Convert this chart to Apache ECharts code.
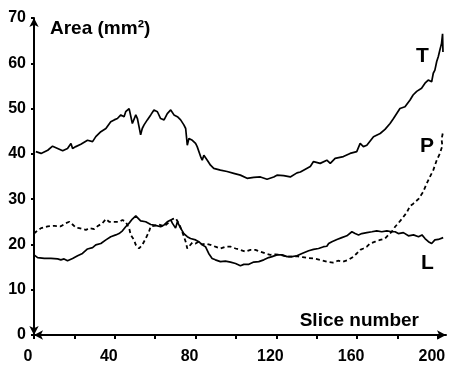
<!DOCTYPE html>
<html>
<head>
<meta charset="utf-8">
<script src="https://cdn.jsdelivr.net/npm/echarts@6/dist/echarts.min.js"></script>
<style>html,body{margin:0;padding:0;background:#fff;}#c{width:449px;height:370px;}</style>
</head>
<body>
<div id="c"></div>
<script>
const xLabelStep = 40;
const xTickStep = 20;
const yTickStep = 10;

// Series T (solid, top)
const tSlice = [0.9,3.5,6.8,9.2,11.7,14.2,16.6,18.3,19.1,20.7,23.2,26.5,29.0,30.6,33.1,35.6,38.0,39.7,41.3,42.1,43.0,44.6,45.4,47.1,47.9,48.7,49.5,50.4,51.2,52.0,52.8,53.6,54.5,56.1,57.8,59.4,61.1,62.7,64.4,66.0,67.7,69.3,71.0,72.6,74.2,75.1,75.9,76.7,78.4,80.0,80.8,82.5,83.3,84.1,85.8,87.4,89.0,92.3,95.6,98.9,102.2,105.5,108.8,112.1,115.4,118.7,120.3,123.6,126.9,130.2,131.9,136.8,138.4,141.7,145.0,146.7,149.1,153.2,156.5,159.8,161.5,163.1,164.8,168.1,171.4,173.8,176.3,178.0,179.6,181.2,183.7,186.2,187.7,189.5,191.9,193.6,195.2,196.9,197.7,198.5,199.4,200.2,201.0,201.8,202.3,202.5];
const tArea  = [40.5,40.1,40.8,41.7,41.2,40.7,41.2,42.3,41.2,41.6,42.1,43.0,42.7,43.8,44.9,45.6,47.1,47.5,47.8,47.5,48.6,48.2,49.3,50.0,49.7,46.7,46.4,48.6,47.8,46.0,44.2,45.6,46.4,47.5,48.6,49.7,49.3,47.8,47.5,48.9,49.7,48.6,48.2,47.5,46.4,45.6,41.9,43.4,43.0,42.3,41.6,39.4,38.6,39.7,38.6,37.5,36.8,36.4,36.1,35.7,35.3,34.6,34.8,34.9,34.4,34.9,35.3,35.2,34.9,35.8,36.0,37.2,38.3,37.9,38.6,37.9,39.0,39.4,40.1,40.5,42.3,41.6,41.9,43.8,44.5,45.4,46.7,47.8,48.9,50.0,50.4,51.9,53.0,53.8,54.5,55.6,56.3,55.9,57.8,58.5,60.4,61.5,63.0,64.4,66.5,62.5];

// Series P (dashed)
const pSlice = [0,1.0,3.5,6.8,10.0,13.3,15.8,17.5,19.1,20.7,22.4,24.0,25.7,27.3,29.8,31.4,33.9,35.6,37.2,39.7,42.1,43.8,45.4,47.1,47.9,49.5,50.4,52.0,53.6,55.3,56.9,57.8,59.4,61.9,64.4,66.5,68.5,70.1,71.8,73.4,75.1,75.9,76.7,78.4,80.0,81.6,83.3,84.9,87.4,89.8,92.3,94.8,97.3,99.8,102.2,104.7,107.2,109.6,112.1,114.6,117.0,119.5,122.0,125.3,127.7,130.2,133.0,135.5,138.4,141.7,145.0,148.0,150.5,153.0,155.7,158.2,159.8,161.5,163.1,164.8,166.4,168.9,171.4,173.8,175.5,177.1,178.8,180.4,182.1,184.5,186.2,187.8,190.3,192.7,194.4,196.0,197.7,199.4,201.0,202.2,201.8,202.6];
const pArea  = [22.4,22.8,23.6,24.0,24.1,24.0,24.7,25.0,24.4,23.7,23.6,23.4,23.2,23.6,23.4,24.0,24.7,25.6,25.0,25.0,25.0,25.4,25.0,23.6,22.1,21.0,19.9,19.1,19.9,21.3,22.8,24.0,24.1,24.4,24.0,24.8,25.6,25.8,24.6,22.8,20.6,19.1,19.5,20.4,20.2,20.6,20.0,20.2,19.9,19.5,19.1,19.5,19.5,19.1,18.8,18.4,18.8,18.8,18.4,18.0,17.7,17.8,17.7,17.3,17.3,17.4,17.2,17.0,16.9,16.6,16.2,16.0,16.4,16.2,16.6,17.3,18.0,18.8,19.1,19.5,20.2,20.6,21.0,21.3,22.1,22.8,23.9,24.7,25.6,27.0,28.5,29.0,30.0,31.6,33.4,34.9,36.4,38.6,40.1,41.8,43.2,45.0];

// Series L (solid, lower)
const lSlice = [0,1.8,5.1,8.4,11.7,13.3,14.9,16.6,19.1,21.6,24.0,26.5,29.0,30.6,33.1,35.6,38.0,40.5,42.1,43.8,45.4,47.1,48.7,50.4,51.2,52.8,55.3,57.8,60.2,62.7,64.4,66.0,67.7,68.5,70.1,71.0,71.8,72.6,74.2,75.9,77.5,80.0,81.6,83.3,84.9,86.5,88.2,89.8,92.3,94.8,97.3,99.8,102.2,103.9,106.4,108.8,111.3,113.8,116.2,117.9,120.3,122.8,125.3,127.7,130.2,132.7,136.0,138.4,140.9,143.4,145.0,145.9,147.5,150.0,152.4,154.9,157.4,159.0,160.7,162.3,164.8,167.3,169.7,172.2,174.7,177.1,178.8,180.4,182.9,185.4,187.9,190.4,192.1,193.6,195.3,196.9,198.5,200.2,202.6];
const lArea  = [17.7,17.1,16.9,16.9,16.8,16.6,16.8,16.4,16.9,17.5,18.0,19.0,19.3,19.9,20.2,21.0,21.7,22.1,22.4,23.0,23.9,24.7,25.6,26.3,25.9,25.2,25.0,24.4,24.2,23.9,24.3,25.0,25.4,24.7,23.6,25.0,24.7,23.6,22.4,21.7,21.3,21.0,20.6,19.9,19.5,18.0,16.9,16.6,16.2,16.3,16.1,15.8,15.3,15.6,15.6,16.1,16.2,16.6,17.1,17.3,17.7,17.7,17.3,17.3,17.5,18.0,18.6,18.9,19.1,19.5,19.6,20.2,20.6,21.1,21.5,21.9,22.8,22.4,22.1,22.4,22.6,22.8,23.0,22.8,23.0,22.8,22.8,22.4,22.6,21.9,22.1,21.7,22.1,21.3,20.6,20.2,21.0,21.1,21.5];

const seriesNames = ['T', 'P', 'L'];
const xName = 'Slice number';
const yName = 'Area (mm²)';
function pairs(xs, ys) { return xs.map((x, i) => [x, ys[i]]); }
const FONT = "'Liberation Sans', Arial, sans-serif";
const chart = echarts.init(document.getElementById('c'), null, {renderer: 'canvas'});

const labelTitle = (text, left, top) => ({
  text: text, left: left, top: top, padding: 0,
  textStyle: { color: '#000', fontFamily: FONT, fontWeight: 'bold', fontSize: 21 }
});

chart.setOption({
  animation: false,
  title: [
    labelTitle(seriesNames[0], 416, 46),
    labelTitle(seriesNames[1], 420, 136),
    labelTitle(seriesNames[2], 421, 253)
  ],
  grid: { left: 34, right: 3, top: 18, bottom: 35 },
  xAxis: {
    type: 'value', min: 0, max: 204, interval: xTickStep,
    splitLine: { show: false },
    name: xName, nameLocation: 'end', nameGap: -27,
    nameTextStyle: { color: '#000', fontFamily: FONT, fontWeight: 'bold', fontSize: 19, align: 'right', verticalAlign: 'bottom', padding: [0, 0, 5, 0] },
    axisLine: { show: true, lineStyle: { color: '#000000', width: 2 }, symbol: 'arrow', symbolSize: [7, 9] },
    axisTick: { show: true, length: 4, lineStyle: { color: '#000000', width: 2 } },
    axisLabel: {
      show: true, margin: 14, color: '#000', fontFamily: FONT, fontWeight: 'bold', fontSize: 16,
      padding: [0, 12, 0, 0], showMaxLabel: false,
      formatter: function (v) { return (v % xLabelStep === 0) ? String(v) : ''; }
    }
  },
  yAxis: {
    type: 'value', min: 0, max: 70, interval: yTickStep,
    splitLine: { show: false },
    name: yName, nameLocation: 'end', nameGap: -11,
    nameTextStyle: { color: '#000', fontFamily: FONT, fontWeight: 'bold', fontSize: 19, align: 'left', verticalAlign: 'middle', padding: [0, 0, 0, 16] },
    axisLine: { show: true, lineStyle: { color: '#000000', width: 2 }, symbol: 'arrow', symbolSize: [7, 9] },
    axisTick: { show: true, length: 3, lineStyle: { color: '#000000', width: 2 } },
    axisLabel: { margin: 8, color: '#000', fontFamily: FONT, fontWeight: 'bold', fontSize: 16 }
  },
  series: [
    { name: seriesNames[0], type: 'line', data: pairs(tSlice, tArea), symbol: 'none', clip: false, lineStyle: { color: '#000', width: 1.7 } },
    { name: seriesNames[1], type: 'line', data: pairs(pSlice, pArea), symbol: 'none', clip: false, lineStyle: { color: '#000', width: 1.8, type: [4, 3] } },
    { name: seriesNames[2], type: 'line', data: pairs(lSlice, lArea), symbol: 'none', clip: false, lineStyle: { color: '#000', width: 1.7 } }
  ]
});
chart.getOption();
setTimeout(function () { chart.resize(); }, 0);
</script>
</body>
</html>
